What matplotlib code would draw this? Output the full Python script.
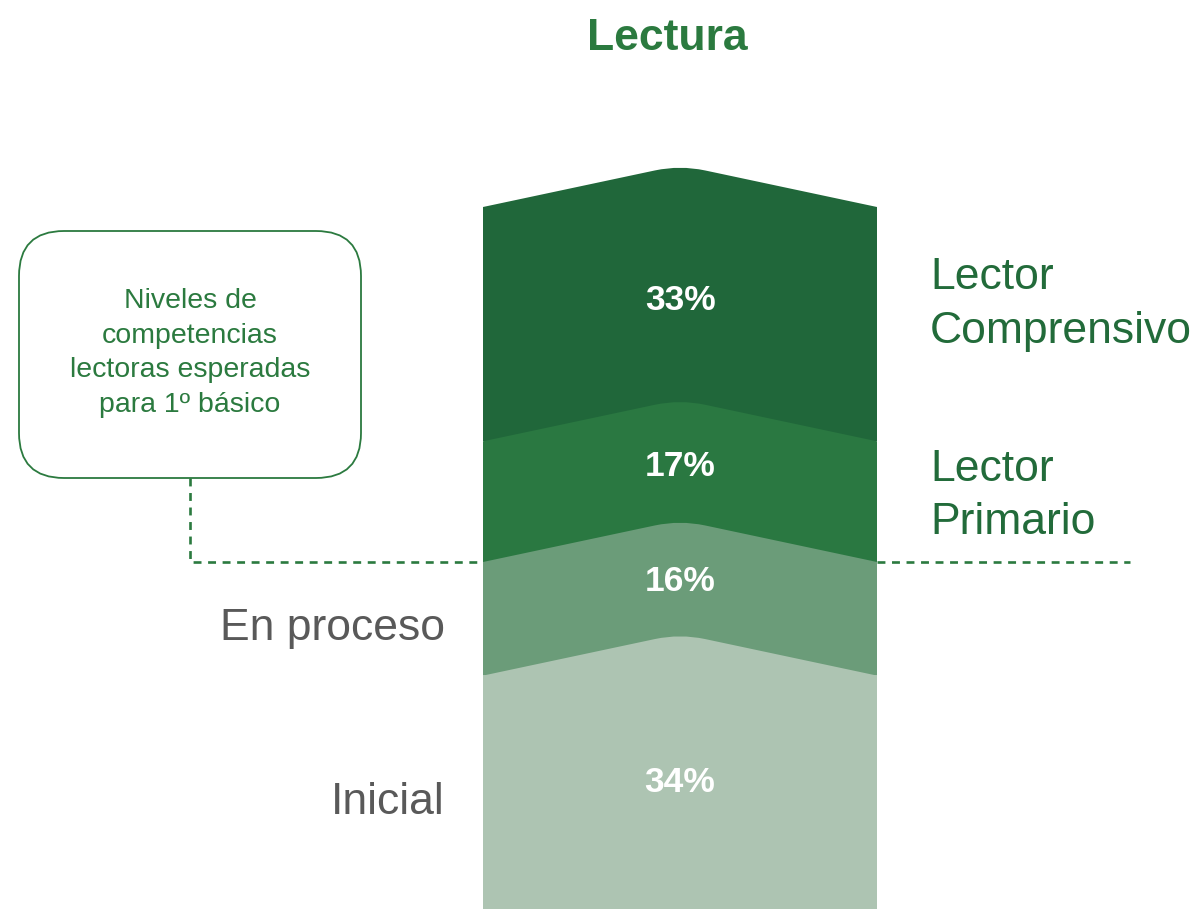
import matplotlib.pyplot as plt
from matplotlib.path import Path
from matplotlib.patches import PathPatch, FancyBboxPatch

plt.rcParams["font.family"] = ["Liberation Sans", "DejaVu Sans"]

# data, bottom to top
levels = ["Inicial", "En proceso", "Lector\nPrimario", "Lector\nComprensivo"]
values = [34, 16, 17, 33]
colors = ["#adc4b2", "#6b9c79", "#2a7841", "#20673a"]
label_colors = ["#595959", "#595959", "#226b3a", "#226b3a"]
label_side = ["left", "left", "right", "right"]
title = "Lectura"
box_text = "Niveles de\ncompetencias\nlectoras esperadas\npara 1º básico"
threshold = values[0] + values[1]  # expected level starts here

GREEN = "#2b7a3f"
W, H = 1199, 909
fig = plt.figure(figsize=(W / 100, H / 100), dpi=100)

# main axes: x in pixels, y in percent
ax = fig.add_axes([0, 0, 1, 1])
scale = 7.1  # px per percent
y0 = 917
ax.set_xlim(0, W)
ax.set_ylim((y0 - H) / scale, y0 / scale)
ax.axis("off")

x_left, x_right = 483, 877
cx = (x_left + x_right) / 2
peak = 5.9
rnd = 25

# vertical nudges (percent units) for value labels and level names
pct_dy = [2, 5.3, 5, 3.4]
name_dy = [-0.9, -1.4, 0.8, 2.8]


def chevron(base, top):
    half = cx - x_left
    hy = top + peak * (1 - rnd / half)
    verts = [
        (x_left, base),
        (x_left, top),
        (cx - rnd, hy),
        (cx, top + peak),
        (cx + rnd, hy),
        (x_right, top),
        (x_right, base),
        (x_left, base),
    ]
    codes = [Path.MOVETO, Path.LINETO, Path.LINETO, Path.CURVE3, Path.CURVE3,
             Path.LINETO, Path.LINETO, Path.CLOSEPOLY]
    return Path(verts, codes)


base = 0
for i, (lev, v, c) in enumerate(zip(levels, values, colors)):
    top = base + v
    lo = base - 2 if i == 0 else base
    ax.add_patch(PathPatch(chevron(lo, top), facecolor=c, edgecolor="none",
                           zorder=10 - i))
    mid = base + v / 2
    ax.text(cx, mid + pct_dy[i], f"{v}%", color="white", fontsize=25.5,
            fontweight="bold", ha="center", va="center", zorder=20)
    if label_side[i] == "left":
        ax.text(445, mid + name_dy[i], lev, color=label_colors[i],
                fontsize=32, ha="right", va="center")
    else:
        ax.text(930, mid + name_dy[i], lev, color=label_colors[i],
                fontsize=32, ha="left", va="center", linespacing=1.4)
    base = top

# dashed threshold line
dash = dict(color=GREEN, lw=1.9, linestyle=(0, (3, 2.5)), zorder=5)
box_bottom = (y0 - 478) / scale
ax.plot([190, 190, x_left], [box_bottom, threshold, threshold], **dash)
ax.plot([x_right, 1130], [threshold, threshold], **dash)

# overlay axes in pixel coords for the note box and title
ov = fig.add_axes([0, 0, 1, 1], zorder=-1)
ov.set_xlim(0, W)
ov.set_ylim(H, 0)
ov.axis("off")
ov.add_patch(FancyBboxPatch((19, 231), 342, 247,
                            boxstyle="round,pad=0,rounding_size=45",
                            facecolor="white", edgecolor=GREEN, lw=1.3))
ov.text(190, 353, box_text, color=GREEN, fontsize=20.5, ha="center",
        va="center", linespacing=1.42)
ov.text(667, 39, title, color=GREEN, fontsize=32, fontweight="bold",
        ha="center", va="center")

fig.savefig("out.png", dpi=100)
